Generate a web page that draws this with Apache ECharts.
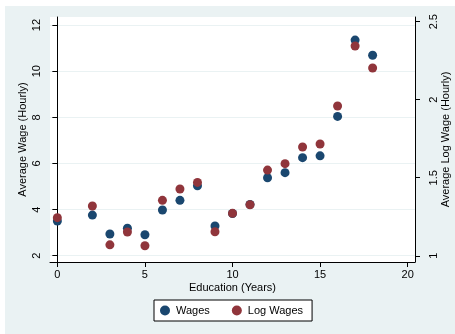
<!DOCTYPE html>
<html>
<head>
<meta charset="utf-8">
<script src="https://cdn.jsdelivr.net/npm/echarts@6/dist/echarts.min.js"></script>
<style>
  html, body { margin: 0; padding: 0; background: #ffffff; }
  #chart { width: 455px; height: 334px; }
</style>
</head>
<body>
<div id="chart"></div>
<script>
// Years of education on the x axis
const years = [0, 2, 3, 4, 5, 6, 7, 8, 9, 10, 11, 12, 13, 14, 15, 16, 17, 18];
// Average hourly wage by years of education (left axis)
const wages = [3.50, 3.76, 2.94, 3.19, 2.91, 3.98, 4.40, 5.03, 3.29, 3.83, 4.22, 5.38, 5.60, 6.25, 6.33, 8.04, 11.35, 10.69];
// Average log hourly wage by years of education (right axis)
const logWages = [1.244, 1.319, 1.070, 1.152, 1.064, 1.355, 1.428, 1.470, 1.154, 1.272, 1.327, 1.549, 1.590, 1.697, 1.716, 1.960, 2.344, 2.203];

// Tick labels
const xTicks = [0, 5, 10, 15, 20];
const wageTicks = [2, 4, 6, 8, 10, 12];
const logTicks = [1, 1.5, 2, 2.5];

const navy = '#1a476f';
const maroon = '#90353b';
const panel = '#eaf2f3';
const font = 'Liberation Sans, Arial, sans-serif';

const chart = echarts.init(document.getElementById('chart'), null, { renderer: 'canvas' });

const axisLine = { show: true, lineStyle: { color: '#000000', width: 1 } };

chart.setOption({
  animation: false,
  backgroundColor: '#ffffff',
  graphic: [{
    type: 'rect',
    z: -10,
    shape: { x: 5, y: 6, width: 450, height: 328 },
    style: { fill: panel }
  }],
  grid: {
    left: 50, right: 40, top: 17, bottom: 72,
    outerBoundsMode: 'none',
    containLabel: false,
    backgroundColor: '#ffffff', show: true, borderWidth: 0
  },
  xAxis: {
    type: 'value',
    min: -0.42,
    max: 20.42,
    name: 'Education (Years)',
    nameLocation: 'middle',
    nameGap: 20,
    nameMoveOverlap: false,
    nameTextStyle: { fontFamily: font, fontSize: 11, color: '#000' },
    axisLine: axisLine,
    axisTick: { show: true, length: 5, customValues: xTicks, lineStyle: { color: '#000' } },
    axisLabel: { customValues: xTicks, fontFamily: font, fontSize: 11, color: '#000', margin: 7 },
    splitLine: { show: false }
  },
  yAxis: [{
    type: 'value',
    position: 'left',
    min: 1.727,
    max: 12.35,
    name: 'Average Wage (Hourly)',
    nameLocation: 'middle',
    nameGap: 22,
    nameRotate: 90,
    nameMoveOverlap: false,
    nameTextStyle: { fontFamily: font, fontSize: 11, color: '#000' },
    axisLine: axisLine,
    axisTick: { show: true, length: 5, customValues: wageTicks, lineStyle: { color: '#000' } },
    axisLabel: { customValues: wageTicks, rotate: 90, fontFamily: font, fontSize: 11, color: '#000', margin: 8 },
    splitLine: { show: true, lineStyle: { color: panel, width: 1 } }
  }, {
    type: 'value',
    position: 'right',
    min: 0.96,
    max: 2.53,
    name: 'Average Log Wage (Hourly)',
    nameLocation: 'middle',
    nameGap: 25,
    nameRotate: 90,
    nameMoveOverlap: false,
    nameTextStyle: { fontFamily: font, fontSize: 11, color: '#000' },
    axisLine: axisLine,
    axisTick: { show: true, length: 5, customValues: logTicks, lineStyle: { color: '#000' } },
    axisLabel: { customValues: logTicks, rotate: 90, fontFamily: font, fontSize: 11, color: '#000', margin: 13 },
    splitLine: { show: false }
  }],
  legend: {
    left: 154,
    top: 300,
    orient: 'horizontal',
    backgroundColor: '#ffffff',
    borderColor: '#000000',
    borderWidth: 1,
    borderRadius: 0,
    padding: [5, 9, 5, 6],
    itemGap: 22,
    itemWidth: 10,
    itemHeight: 10,
    icon: 'circle',
    textStyle: { fontFamily: font, fontSize: 11, color: '#000', padding: [0, 0, 0, 1] },
    data: ['Wages', 'Log Wages']
  },
  series: [{
    name: 'Wages',
    type: 'scatter',
    yAxisIndex: 0,
    symbol: 'circle',
    symbolSize: 9,
    itemStyle: { color: navy, opacity: 1 },
    data: years.map((x, i) => [x, wages[i]])
  }, {
    name: 'Log Wages',
    type: 'scatter',
    yAxisIndex: 1,
    symbol: 'circle',
    symbolSize: 9,
    itemStyle: { color: maroon, opacity: 1 },
    data: years.map((x, i) => [x, logWages[i]])
  }]
});
</script>
</body>
</html>
